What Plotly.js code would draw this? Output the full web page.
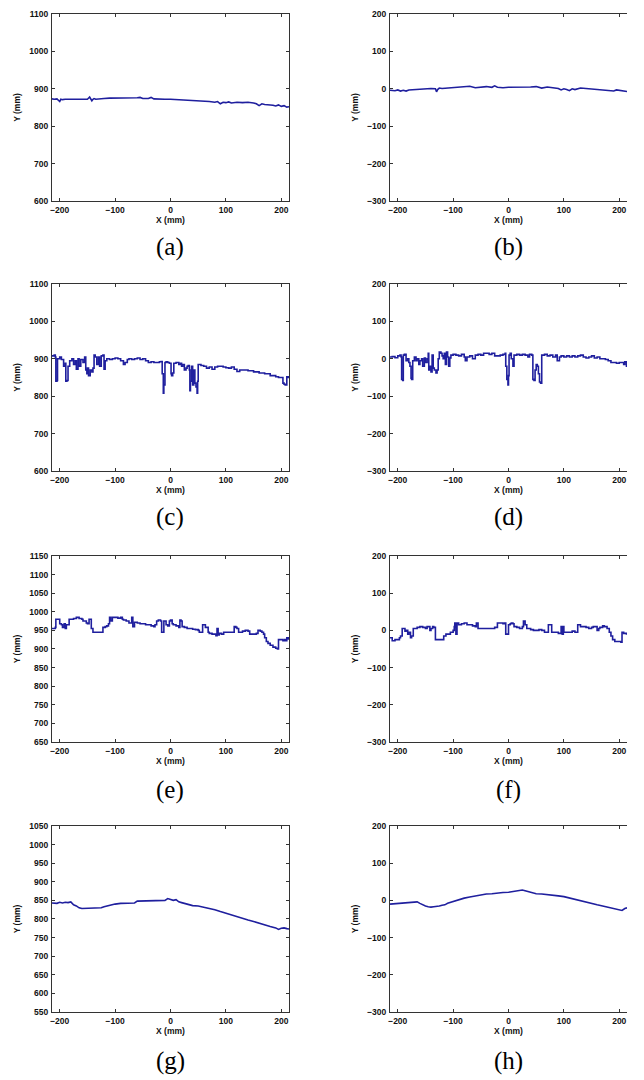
<!DOCTYPE html>
<html><head><meta charset="utf-8">
<script src="https://cdn.plot.ly/plotly-3.0.1.min.js"></script>
<style>html,body{margin:0;padding:0;background:#fff}#chart{width:644px;height:1080px}</style>
</head><body><div id="chart"></div>
<script>
// ---- data ----
const xA = [-214,-210,-205,-202,-200,-198,-195,-190,-180,-170,
  -160,-150,-146,-144,-142,-140,-138,-135,-130,-120,
  -110,-100,-90,-80,-70,-60,-55,-50,-40,-35,
  -30,-20,-10,0,10,20,30,40,50,60,
  70,80,85,90,95,100,105,110,120,130,
  140,150,155,160,165,170,180,185,190,195,
  200,205,210,214];
const yA = [873,872,873,870,866,872,871,872,872,872,
  872,872,878,873,868,872,874,872,873,874,
  875,875,876,874,875,876,877,874,874,877,
  873,872,872,872,871,871,870,870,869,868,
  866,864,866,860,864,863,865,862,864,863,
  864,862,860,855,860,858,858,856,854,857,
  853,855,851,852];

const xB = [-214,-205,-200,-195,-190,-185,-180,-170,-160,-150,
  -140,-132,-130,-128,-125,-120,-110,-100,-90,-80,
  -70,-60,-50,-40,-30,-25,-20,-10,0,10,
  20,30,40,50,60,70,80,90,95,100,
  105,110,115,120,130,140,150,160,170,180,
  190,195,200,205,210,214];
const yB = [-4,-5,-3,-6,-4,-6,-3,-2,0,0,
  1,0,-8,-2,2,1,2,4,4,6,
  7,3,5,6,4,8,4,3,4,4,
  3,4,5,6,2,5,3,1,-3,0,
  -2,-5,0,-2,2,1,0,-2,-4,-3,
  -6,-3,-4,-5,-5,-7];

const xC = [-214,-210,-208,-207,-205,-204,-200,-197,-193,-190,
  -189,-187,-185,-182,-178,-175,-172,-170,-167,-165,
  -162,-158,-155,-153,-151,-150,-148,-145,-142,-140,
  -138,-136,-133,-130,-128,-125,-122,-120,-118,-115,
  -110,-105,-100,-95,-90,-85,-82,-78,-75,-70,
  -65,-60,-55,-50,-45,-40,-35,-30,-25,-20,
  -17,-15,-13,-12,-10,-8,-5,-2,0,1,
  2,4,6,10,15,18,20,22,25,28,
  30,32,34,35,36,38,40,42,44,46,
  48,49,50,55,60,65,70,75,80,85,
  90,95,100,105,110,115,120,125,130,140,
  150,160,170,180,190,195,200,203,205,207,
  210,213];
const yC = [908,910,905,840,842,900,905,898,880,888,
  840,842,880,895,900,885,895,872,900,880,
  898,890,905,870,860,875,855,870,865,875,
  910,905,885,905,880,908,910,872,895,900,
  898,900,902,900,895,885,890,898,900,898,
  900,902,898,900,895,890,892,890,890,892,
  893,860,808,830,890,892,890,888,888,860,
  855,862,888,890,885,888,880,885,870,875,
  880,882,870,815,840,880,830,870,835,825,
  808,840,885,882,880,875,878,872,878,880,
  880,878,876,875,878,872,866,870,870,868,
  865,862,860,855,852,850,850,835,832,830,
  852,848];

const xD = [-214,-210,-205,-200,-196,-194,-193,-191,-190,-188,
  -185,-182,-180,-178,-176,-175,-173,-170,-167,-165,
  -162,-160,-157,-155,-152,-150,-147,-145,-144,-142,
  -140,-138,-136,-134,-131,-129,-127,-125,-122,-120,
  -118,-116,-114,-112,-110,-108,-106,-104,-100,-95,
  -90,-85,-80,-78,-75,-70,-65,-60,-55,-50,
  -45,-40,-35,-30,-25,-20,-15,-10,-6,-5,
  -3,-1,0,1,3,5,8,10,15,20,
  25,30,35,38,42,44,46,48,50,52,
  54,56,58,60,65,70,75,80,85,88,
  92,95,100,105,110,115,120,125,130,135,
  140,145,150,155,160,165,170,175,180,185,
  190,195,200,205,208,210,213];
const yD = [5,6,3,8,10,5,-55,-58,10,12,
  -5,0,-10,-20,-52,-55,-5,5,-5,0,
  -15,-5,0,-20,2,-10,0,15,-30,-20,
  -35,10,-25,-30,-38,-30,0,18,15,8,
  0,15,-15,18,5,-20,2,10,12,10,
  8,12,5,-5,5,8,0,10,12,10,
  15,15,12,15,8,8,10,12,15,-20,
  -55,-70,-45,10,15,0,-20,10,12,10,
  12,10,5,12,10,-55,-58,-30,-15,-20,
  -40,-62,-65,10,12,8,10,5,10,-5,
  5,8,5,8,5,8,5,8,10,5,
  2,5,8,2,5,0,0,-2,-5,-10,
  -10,-12,-10,-10,-15,-8,-22];

const xE = [-214,-208,-207,-202,-200,-197,-195,-192,-190,-188,
  -185,-183,-175,-170,-165,-160,-158,-152,-150,-147,
  -145,-143,-140,-135,-130,-125,-122,-118,-115,-112,
  -110,-108,-105,-100,-95,-90,-87,-85,-80,-75,
  -72,-70,-68,-65,-60,-55,-50,-45,-40,-35,
  -30,-28,-25,-22,-18,-16,-14,-12,-8,-5,
  -2,0,3,5,10,15,17,19,21,25,
  30,35,40,45,50,52,55,58,60,63,
  65,68,70,75,80,82,84,86,88,92,
  96,100,105,110,113,115,118,120,123,127,
  130,135,140,143,147,150,155,158,162,165,
  168,170,173,176,180,185,190,193,195,198,
  203,206,208,210,213];
const yE = [955,958,980,980,968,965,958,968,955,965,
  965,980,982,985,982,980,975,970,968,980,
  980,955,945,945,945,945,958,960,962,968,
  985,975,985,985,983,985,980,978,975,970,
  970,985,960,972,970,968,968,965,965,962,
  960,965,975,978,975,945,945,975,965,962,
  975,978,968,965,962,958,978,975,960,958,
  955,955,953,952,950,945,945,965,965,958,
  958,945,942,940,940,936,955,938,942,940,
  945,945,945,945,945,960,958,955,945,945,
  948,950,948,940,940,940,942,950,948,945,
  940,930,920,915,910,905,902,900,925,925,
  922,925,922,930,925];

const xF = [-214,-210,-205,-200,-197,-195,-192,-190,-187,-185,
  -182,-180,-177,-175,-172,-168,-165,-160,-155,-150,
  -147,-145,-142,-140,-137,-135,-132,-130,-125,-120,
  -117,-113,-110,-105,-100,-98,-97,-95,-93,-90,
  -85,-80,-75,-70,-65,-60,-58,-55,-50,-45,
  -40,-35,-30,-25,-20,-15,-10,-7,-5,-2,
  0,3,5,8,10,15,20,25,27,30,
  33,35,40,45,50,55,60,65,70,72,
  75,78,80,85,90,93,95,97,99,100,
  105,110,115,120,123,125,130,135,140,145,
  150,153,155,160,163,165,170,173,175,178,
  182,185,188,192,195,200,203,205,208,213];
const yF = [-20,-28,-25,-25,-20,-15,5,5,-2,0,
  -10,-5,-20,-15,5,5,8,10,8,5,
  10,10,0,5,10,8,-25,-25,-25,-25,
  -15,-10,-10,-5,0,10,20,-10,20,15,
  18,20,15,15,12,10,20,5,5,5,
  5,5,5,8,20,20,18,20,-10,-10,
  15,18,20,18,10,8,5,10,25,15,
  5,5,2,0,0,2,0,-5,-5,15,
  15,-5,-5,-5,-8,-8,10,-10,10,-5,
  -5,-5,-2,-5,-5,15,10,10,8,5,
  8,10,10,0,5,8,12,10,10,5,
  -5,-15,-25,-30,-30,-30,-32,-5,-8,-12];

const xG = [-214,-205,-200,-195,-190,-185,-180,-175,-170,-165,
  -160,-150,-140,-130,-125,-120,-115,-110,-100,-90,
  -80,-70,-65,-60,-55,-50,-40,-30,-20,-10,
  -5,0,5,10,15,20,30,40,50,60,
  70,80,90,100,110,120,130,140,150,160,
  170,180,190,195,200,205,210,214];
const yG = [843,842,845,843,845,844,846,838,835,830,
  828,828,828,828,830,833,835,838,840,842,
  842,842,843,848,848,849,850,850,850,850,
  855,852,850,852,846,844,840,836,835,832,
  830,825,820,815,810,806,802,797,793,788,
  785,780,776,772,775,776,774,773];

const xH = [-214,-205,-195,-185,-175,-165,-160,-155,-150,-145,
  -140,-135,-130,-125,-120,-115,-110,-100,-90,-80,
  -70,-60,-50,-40,-30,-20,-10,0,10,20,
  25,30,35,40,45,50,60,70,80,90,
  100,110,120,130,140,150,160,170,180,190,
  200,205,210,214];
const yH = [-10,-9,-8,-7,-6,-4,-8,-12,-15,-17,
  -18,-17,-17,-15,-13,-12,-8,-3,2,6,
  9,12,15,17,18,20,21,22,25,27,
  28,26,24,20,19,18,17,16,15,12,
  10,6,2,-2,-5,-8,-12,-15,-18,-22,
  -25,-27,-22,-20];

const panelLabels = ['(a)','(b)','(c)','(d)','(e)','(f)','(g)','(h)'];
const yTicksLeft1 = [600,700,800,900,1000,1100];
const yTicksLeft3 = [650,700,750,800,850,900,950,1000,1050,1100,1150];
const yTicksLeft4 = [550,600,650,700,750,800,850,900,950,1000,1050];
const yTicksRight = [-300,-200,-100,0,100,200];
const xTicks = [-200,-100,0,100,200];
const xTitle = 'X (mm)';
const yTitle = 'Y (mm)';

// ---- layout construction ----
const series = [[xA,yA],[xB,yB],[xC,yC],[xD,yD],[xE,yE],[xF,yF],[xG,yG],[xH,yH]];
const stepped = [false,false,true,true,true,true,false,false];
const yTickSets = [yTicksLeft1,yTicksRight,yTicksLeft1,yTicksRight,yTicksLeft3,yTicksRight,yTicksLeft4,yTicksRight];
const xRange = [-214, 214];
const colDom = [[0.0807,0.4488],[0.6056,0.9736]];
const rowDom = [[0.8139,0.9870],[0.5639,0.7370],[0.3130,0.4852],[0.0630,0.2352]];
const labelY = [1-247/1080, 1-517/1080, 1-790/1080, 1-1061/1080];
const lineColor = '#1f1f9e';
const tickFont = {family:'Liberation Sans, Arial, sans-serif', size:8.5, color:'#111', weight:'bold'};

const traces = [];
const layout = {
  width:644, height:1080, margin:{l:0,r:0,t:0,b:0},
  paper_bgcolor:'#fff', plot_bgcolor:'#fff', showlegend:false,
  annotations:[]
};

series.forEach((s,i)=>{
  const n = i+1;
  const col = i%2, row = Math.floor(i/2);
  const ticks = yTickSets[i];
  traces.push({x:s[0], y:s[1], type:'scatter', mode:'lines',
    line:{color:lineColor, width:1.6, shape: stepped[i] ? 'hv' : 'linear'},
    xaxis:'x'+n, yaxis:'y'+n, hoverinfo:'skip'});
  layout['xaxis'+n] = {
    domain:colDom[col], anchor:'y'+n, range:xRange, tickvals:xTicks,
    ticks:'inside', ticklen:3, tickcolor:'#333', showline:true, linecolor:'#333', linewidth:1,
    mirror:'ticks', showgrid:false, zeroline:false, tickfont:tickFont,
    ticklabelstandoff:1,
    title:{text:xTitle, font:tickFont, standoff:2}
  };
  layout['yaxis'+n] = {
    domain:rowDom[row], anchor:'x'+n, range:[ticks[0], ticks[ticks.length-1]], tickvals:ticks,
    ticks:'inside', ticklen:3, tickcolor:'#333', showline:true, linecolor:'#333', linewidth:1,
    mirror: col===0 ? 'ticks' : false, showgrid:false, zeroline:false, tickfont:tickFont,
    ticklabelstandoff:1,
    title:{text:yTitle, font:tickFont, standoff:7}
  };
  if (col===1) {
    const m = 8 + row + 1;
    layout['yaxis'+m] = {
      overlaying:'y'+n, side:'right', anchor:'x'+n,
      range:[ticks[0], ticks[ticks.length-1]], tickvals:ticks,
      ticks:'inside', ticklen:3, tickcolor:'#999', showline:false,
      showticklabels:false, showgrid:false, zeroline:false
    };
  }
  layout.annotations.push({
    text:panelLabels[i], xref:'paper', yref:'paper',
    x:(colDom[col][0]+colDom[col][1])/2, y:labelY[row],
    xanchor:'center', yanchor:'middle', showarrow:false,
    font:{family:'Liberation Serif, Times New Roman, serif', size:25, color:'#000'}
  });
});

Plotly.newPlot('chart', traces, layout, {staticPlot:true, displayModeBar:false});
</script>
</body></html>
